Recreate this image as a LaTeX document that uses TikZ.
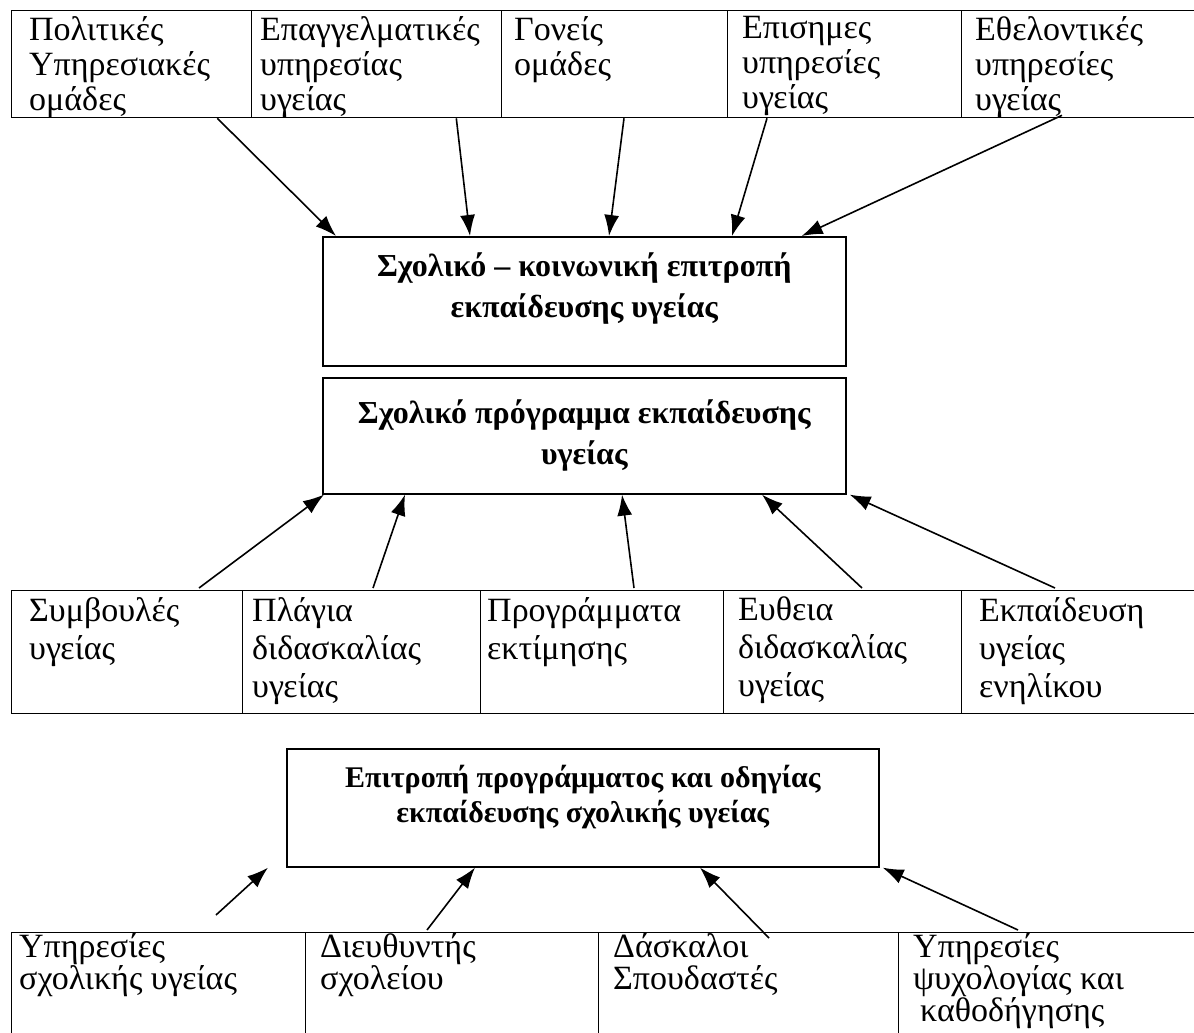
\documentclass[tikz,border=0pt]{standalone}
\usepackage{fontspec}
\setmainfont{Liberation Serif}
\usetikzlibrary{arrows.meta,positioning}

\tikzset{
  cell/.style={draw, line width=1.3pt, anchor=north west, inner sep=0pt},
  celltext/.style={anchor=north west, align=left, inner sep=0pt,
    font=\fontsize{34}{35}\selectfont, execute at begin node={\rule{0pt}{28pt}}},
  hub/.style={draw, line width=1.6pt, anchor=north west, inner sep=0pt},
  hubtext/.style={anchor=north, align=center, inner sep=0pt,
    font=\fontsize{32}{41}\selectfont\bfseries},
  feed/.style={line width=1.6pt, -{Latex[length=21pt,width=15pt]}}
}

\begin{document}
\begin{tikzpicture}[x=1pt,y=-1pt]
\useasboundingbox (0,0) rectangle (1194,1033);

% upper table
\node[cell, minimum width=240pt, minimum height=107pt] (polit) at (11,10) {};
\node[cell, minimum width=250pt, minimum height=107pt] (epag) at (251,10) {};
\node[cell, minimum width=226pt, minimum height=107pt] (goneis) at (501,10) {};
\node[cell, minimum width=234pt, minimum height=107pt] (episim) at (727,10) {};
\node[cell, minimum width=245pt, minimum height=107pt] (ethel) at (961,10) {};

\node[celltext, below right=6pt and 18pt of polit.north west] (politT) {Πολιτικές\\Υπηρεσιακές\\ομάδες};
\node[celltext, below right=6pt and 9pt of epag.north west] (epagT) {Επαγγελματικές\\υπηρεσίας\\υγείας};
\node[celltext, below right=6pt and 13pt of goneis.north west] (goneisT) {Γονείς\\ομάδες};
\node[celltext, below right=6pt and 15pt of episim.north west] (episimT) {Επισημες\\υπηρεσίες\\υγείας};
\node[celltext, below right=6pt and 14pt of ethel.north west] (ethelT) {Εθελοντικές\\υπηρεσίες\\υγείας};

% the two central boxes
\node[hub, minimum width=523pt, minimum height=129pt] (skep) at (322,236) {};
\node[hubtext, below=17pt of skep.north] (skepT) {Σχολικό – κοινωνική επιτροπή\\εκπαίδευσης υγείας};
\node[hub, minimum width=523pt, minimum height=116pt] (sprog) at (322,377) {};
\node[hubtext, below=23pt of sprog.north] (sprogT) {Σχολικό πρόγραμμα εκπαίδευσης\\υγείας};

\draw[feed] ([xshift=-35pt]polit.south east) -- ([xshift=14pt]skep.north west);
\draw[feed] ([xshift=-46pt]epag.south east) -- ([xshift=148pt]skep.north west);
\draw[feed] ([xshift=123pt]goneis.south west) -- ([xshift=287pt]skep.north west);
\draw[feed] ([xshift=40pt]episim.south west) -- ([xshift=410pt]skep.north west);
\draw[feed] ([xshift=101pt,yshift=3pt]ethel.south west) -- ([xshift=-45pt]skep.north east);

% middle table
\node[cell, minimum width=231pt, minimum height=123pt] (symv) at (11,590) {};
\node[cell, minimum width=238pt, minimum height=123pt] (plag) at (242,590) {};
\node[cell, minimum width=243pt, minimum height=123pt] (progr) at (480,590) {};
\node[cell, minimum width=238pt, minimum height=123pt] (evth) at (723,590) {};
\node[cell, minimum width=245pt, minimum height=123pt] (enil) at (961,590) {};

\node[celltext, below right=7pt and 18pt of symv.north west, font=\fontsize{34}{38}\selectfont] (symvT) {Συμβουλές\\υγείας};
\node[celltext, below right=7pt and 10pt of plag.north west, font=\fontsize{34}{38}\selectfont] (plagT) {Πλάγια\\διδασκαλίας\\υγείας};
\node[celltext, below right=7pt and 7pt of progr.north west, font=\fontsize{34}{38}\selectfont] (progrT) {Προγράμματα\\εκτίμησης};
\node[celltext, below right=7pt and 15pt of evth.north west, font=\fontsize{34}{38}\selectfont] (evthT) {Ευθεια\\διδασκαλίας\\υγείας};
\node[celltext, below right=7pt and 18pt of enil.north west, font=\fontsize{34}{38}\selectfont] (enilT) {Εκπαίδευση\\υγείας\\ενηλίκου};

\draw[feed] ([xshift=188pt,yshift=2pt]symv.north west) -- ([xshift=2pt]sprog.south west);
\draw[feed] ([xshift=131pt,yshift=2pt]plag.north west) -- ([xshift=83pt]sprog.south west);
\draw[feed] ([xshift=154pt,yshift=2pt]progr.north west) -- ([xshift=300pt]sprog.south west);
\draw[feed] ([xshift=139pt,yshift=2pt]evth.north west) -- ([xshift=440pt]sprog.south west);
\draw[feed] ([xshift=94pt,yshift=2pt]enil.north west) -- ([xshift=3pt]sprog.south east);

% lower part
\node[hub, minimum width=592pt, minimum height=118pt] (epit) at (286,748) {};
\node[hubtext, below=17pt of epit.north, font=\fontsize{30}{35}\selectfont\bfseries] (epitT) {Επιτροπή προγράμματος και οδηγίας\\εκπαίδευσης σχολικής υγείας};

\node[cell, minimum width=294pt, minimum height=125pt] (ypsch) at (11,932) {};
\node[cell, minimum width=293pt, minimum height=125pt] (dieu) at (305,932) {};
\node[cell, minimum width=300pt, minimum height=125pt] (dask) at (598,932) {};
\node[cell, minimum width=300pt, minimum height=125pt] (psych) at (898,932) {};

\node[celltext, below right=1pt and 8pt of ypsch.north west, font=\fontsize{34}{32}\selectfont] (ypschT) {Υπηρεσίες\\σχολικής υγείας};
\node[celltext, below right=1pt and 15pt of dieu.north west, font=\fontsize{34}{32}\selectfont] (dieuT) {Διευθυντής\\σχολείου};
\node[celltext, below right=1pt and 15pt of dask.north west, font=\fontsize{34}{32}\selectfont] (daskT) {Δάσκαλοι\\Σπουδαστές};
\node[celltext, below right=1pt and 15pt of psych.north west, font=\fontsize{34}{32}\selectfont] (psychT) {Υπηρεσίες\\ψυχολογίας και\\\hspace{7pt}καθοδήγησης};

\draw[feed] ([xshift=205pt,yshift=17pt]ypsch.north west) -- ([xshift=-18pt]epit.south west);
\draw[feed] ([xshift=122pt,yshift=2pt]dieu.north west) -- ([xshift=189pt]epit.south west);
\draw[feed] ([xshift=171pt,yshift=-6pt]dask.north west) -- ([xshift=414pt]epit.south west);
\draw[feed] ([xshift=120pt,yshift=2pt]psych.north west) -- ([xshift=3pt]epit.south east);

\end{tikzpicture}
\end{document}
